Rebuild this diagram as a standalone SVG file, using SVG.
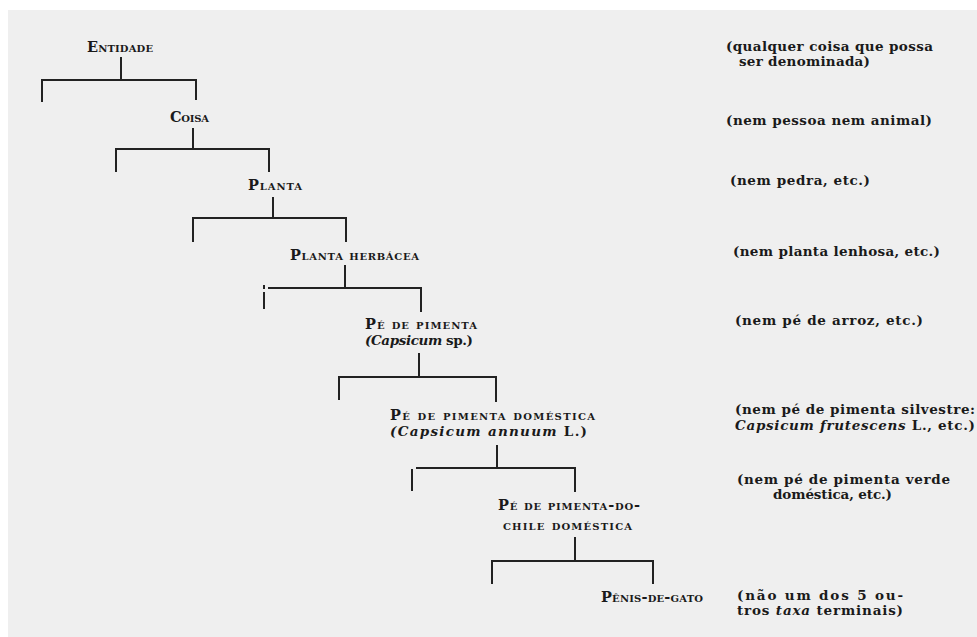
<svg xmlns="http://www.w3.org/2000/svg" width="977" height="637" viewBox="0 0 977 637">
<style>
.bg{fill:#efefef}
.n{font-family:"DejaVu Serif","Liberation Serif",serif;font-weight:bold;font-size:14.5px;font-variant:small-caps;fill:#1a1a1a}
.i{font-family:"DejaVu Serif","Liberation Serif",serif;font-weight:bold;font-size:13.5px;fill:#1a1a1a}
.a{font-family:"DejaVu Serif","Liberation Serif",serif;font-weight:bold;font-size:13.5px;fill:#1a1a1a}
.it{font-style:italic}
.c{fill:none;stroke:#222;stroke-width:2;stroke-linecap:butt;stroke-linejoin:miter}
</style>
<rect x="0" y="0" width="977" height="637" fill="#ffffff"/>
<rect class="bg" x="8" y="10" width="969" height="627"/>
<g id="connectors">
<path class="c" d="M121 57V80M42 102V80H196V100"/>
<path class="c" d="M193 128V149M116 172V149H269V172"/>
<path class="c" d="M273 197V218M193 242V218H346V242"/>
<path class="c" d="M345 265V288M268 288H421V312"/>
<path class="c" d="M264 285V289M264 292V309"/>
<path class="c" d="M419 353V377M339 400V377H496V402"/>
<path class="c" d="M497 445V468M412 491V469M416 468H575V492"/>
<path class="c" d="M575 537V561M492 584V561H653V584"/>
</g>
<g id="node-entidade"><text class="n" x="87" y="52" textLength="66" lengthAdjust="spacing">Entidade</text></g>
<g id="node-coisa"><text class="n" x="170" y="122" textLength="39" lengthAdjust="spacing">Coisa</text></g>
<g id="node-planta"><text class="n" x="248" y="190" textLength="54" lengthAdjust="spacing">Planta</text></g>
<g id="node-planta-herbacea"><text class="n" x="290" y="260" textLength="129" lengthAdjust="spacing">Planta herbácea</text></g>
<g id="node-pe-de-pimenta">
<text class="n" x="365" y="329" textLength="112" lengthAdjust="spacing">Pé de pimenta</text>
<text class="i" x="365" y="345" textLength="108" lengthAdjust="spacing"><tspan class="it">(Capsicum</tspan> sp.)</text>
</g>
<g id="node-pe-de-pimenta-domestica">
<text class="n" x="390" y="420" textLength="205" lengthAdjust="spacing">Pé de pimenta doméstica</text>
<text class="i" x="390" y="436" textLength="197" lengthAdjust="spacing"><tspan class="it">(Capsicum annuum</tspan> L.)</text>
</g>
<g id="node-pe-de-pimenta-do-chile">
<text class="n" x="498" y="510" textLength="142" lengthAdjust="spacing">Pé de pimenta-do-</text>
<text class="n" x="503" y="530" textLength="129" lengthAdjust="spacing">chile doméstica</text>
</g>
<g id="node-penis-de-gato"><text class="n" x="601" y="602" textLength="102" lengthAdjust="spacing">Pênis-de-gato</text></g>
<g id="notes">
<text class="a" x="726" y="51" textLength="207" lengthAdjust="spacing">(qualquer coisa que possa</text>
<text class="a" x="739" y="66" textLength="131" lengthAdjust="spacing">ser denominada)</text>
<text class="a" x="726" y="125" textLength="206" lengthAdjust="spacing">(nem pessoa nem animal)</text>
<text class="a" x="730" y="185" textLength="140" lengthAdjust="spacing">(nem pedra, etc.)</text>
<text class="a" x="733" y="256" textLength="207" lengthAdjust="spacing">(nem planta lenhosa, etc.)</text>
<text class="a" x="735" y="325" textLength="188" lengthAdjust="spacing">(nem pé de arroz, etc.)</text>
<text class="a" x="735" y="414" textLength="240" lengthAdjust="spacing">(nem pé de pimenta silvestre:</text>
<text class="a" x="735" y="430" textLength="240" lengthAdjust="spacing"><tspan class="it">Capsicum frutescens</tspan> L., etc.)</text>
<text class="a" x="737" y="484" textLength="213" lengthAdjust="spacing">(nem pé de pimenta verde</text>
<text class="a" x="773" y="499" textLength="119" lengthAdjust="spacing">doméstica, etc.)</text>
<text class="a" x="737" y="600" textLength="166" lengthAdjust="spacing">(não um dos 5 ou-</text>
<text class="a" x="737" y="615" textLength="166" lengthAdjust="spacing">tros <tspan class="it">taxa</tspan> terminais)</text>
</g>
</svg>
